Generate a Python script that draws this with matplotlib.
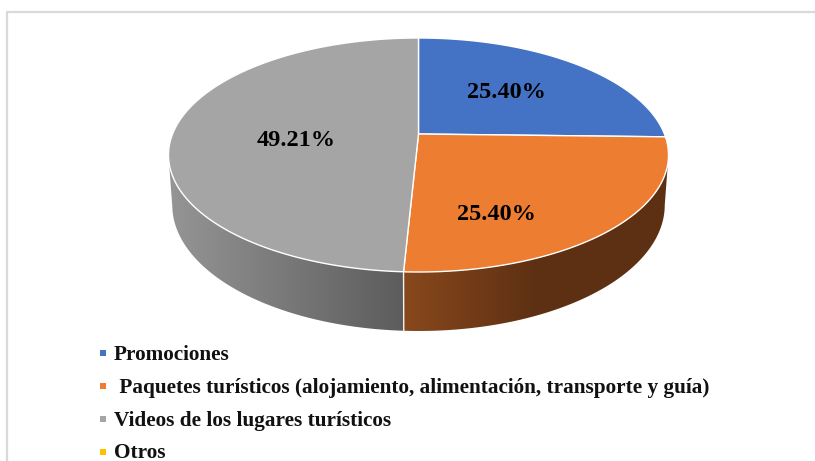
import numpy as np
import matplotlib
matplotlib.use("Agg")
import matplotlib.pyplot as plt
from matplotlib.patches import Polygon
from matplotlib.colors import LinearSegmentedColormap

categories = ["Promociones",
              " Paquetes turísticos (alojamiento, alimentación, transporte y guía)",
              "Videos de los lugares turísticos",
              "Otros"]
values = [25.40, 25.40, 49.21, 0.0]
labels = ["25.40%", "25.40%", "49.21%", None]
colors = ["#4472C4", "#ED7D31", "#A5A5A5", "#FFC000"]
label_pos = [(506, 92), (496, 214), (296, 140), None]
side_ramps = [None, ["#88481C", "#5E3013", "#5E3013"], ["#959595", "#5C5C5C"], None]

W, H = 815, 461
plt.rcParams["font.family"] = ["Liberation Serif", "DejaVu Serif"]
fig = plt.figure(figsize=(W / 100, H / 100), dpi=100, facecolor="white")
ax = fig.add_axes([0, 0, 1, 1])
ax.axis("off")

# chart frame (runs off the right and bottom of the crop)
ax.plot([6.5, 6.5, W + 2], [H + 2, 12.5, 12.5], color="#D9D9D9", lw=1.6, zorder=1)

# perspective projection of a tilted disc
cx, cy = 418.5, 134.0
persp = 42 / 234
ya = 96 * (1 + persp)
xa = 250 * np.sqrt(1 - persp ** 2)
depth = 48.4
shrink = 0.985


def rim(theta, drop=0.0, sx=1.0):
    u, v = np.cos(theta), np.sin(theta)
    d = 1 + persp * v
    return np.column_stack([cx + sx * xa * u / d, cy - ya * v / d + drop / d])


fractions = np.array(values) / sum(values)
edges = np.pi / 2 - 2 * np.pi * np.concatenate([[0], np.cumsum(fractions)])

# side walls with a horizontal gradient
for i, ramp in enumerate(side_ramps):
    if ramp is None:
        continue
    t = np.linspace(edges[i], edges[i + 1], 400)
    t = t[np.sin(t) <= -persp]
    top = rim(t)
    bottom = rim(t, depth, shrink)
    poly = Polygon(np.vstack([top, bottom[::-1]]), closed=True, fc="none", ec="none")
    ax.add_patch(poly)
    x0, x1 = min(top[:, 0].min(), bottom[:, 0].min()), max(top[:, 0].max(), bottom[:, 0].max())
    y0, y1 = top[:, 1].min(), bottom[:, 1].max()
    cmap = LinearSegmentedColormap.from_list("s", ramp)
    grad = np.linspace(0, 1, 256).reshape(1, -1)
    img = ax.imshow(grad, cmap=cmap, extent=[x0, x1, y1, y0], aspect="auto", zorder=2,
                    interpolation="bilinear")
    img.set_clip_path(poly)

# seam between the two visible walls
seam = np.array([edges[2]])
a, b = rim(seam), rim(seam, depth, shrink)
ax.plot([a[0, 0], b[0, 0]], [a[0, 1], b[0, 1]], color="#F2F2F2", lw=1.0, zorder=3)

ax.set_xlim(0, W)
ax.set_ylim(H, 0)

# top face
for i, col in enumerate(colors):
    if values[i] <= 0:
        continue
    t = np.linspace(edges[i], edges[i + 1], 300)
    pts = np.vstack([[cx, cy], rim(t)])
    ax.add_patch(Polygon(pts, closed=True, fc=col, ec="white", lw=1.0,
                         joinstyle="round", zorder=4))

# value labels
for lab, pos in zip(labels, label_pos):
    if lab:
        ax.text(pos[0], pos[1], lab, ha="center", va="center", fontsize=17.5,
                fontweight="bold", color="black", zorder=5)

# legend
legend_y = [353, 386, 419, 452]
for name, col, y in zip(categories, colors, legend_y):
    ax.scatter([103], [y], marker="s", s=18, color=col, linewidths=0, zorder=5)
    ax.text(114, min(y + 1.5, 452.5), name, ha="left", va="center", fontsize=15.3, fontweight="bold",
            color="#111111", zorder=5)

fig.savefig("out.png", dpi=100, facecolor="white")
